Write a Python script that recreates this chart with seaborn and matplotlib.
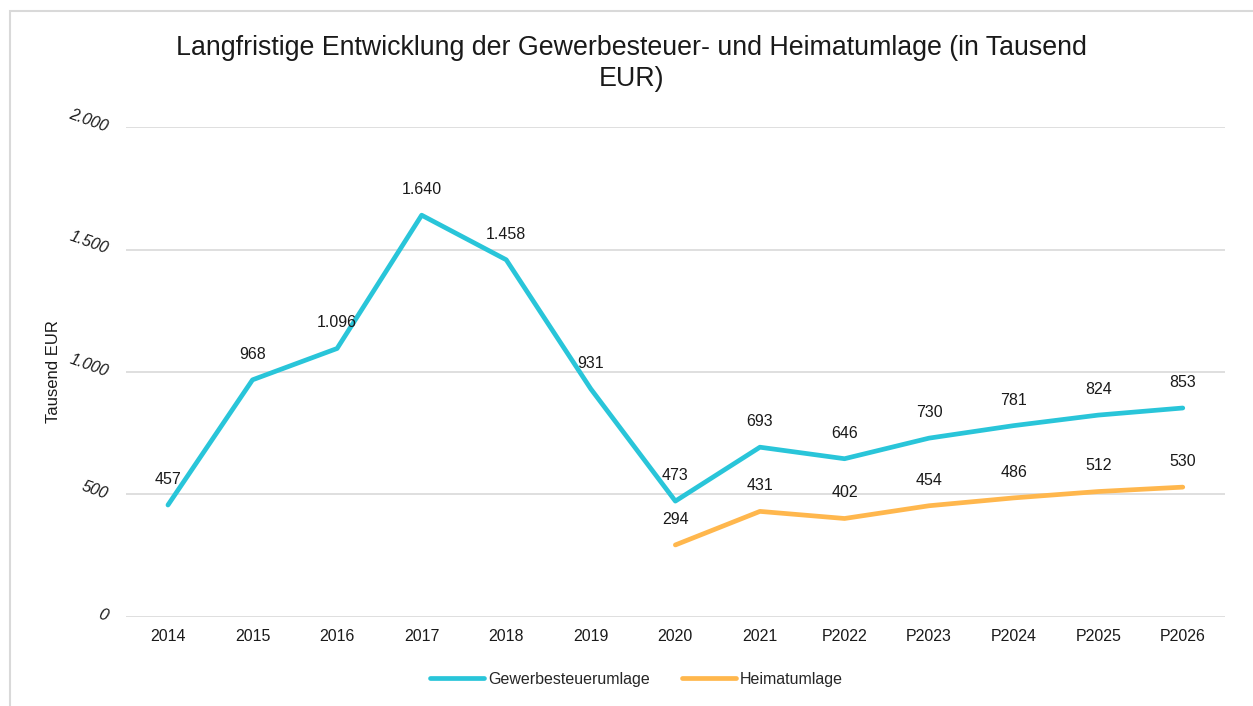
import matplotlib
matplotlib.use("Agg")
import matplotlib.pyplot as plt
import matplotlib.ticker as mticker
from matplotlib.patches import Rectangle
import seaborn as sns
import pandas as pd

# Daten
jahre = ["2014", "2015", "2016", "2017", "2018", "2019", "2020",
         "2021", "P2022", "P2023", "P2024", "P2025", "P2026"]
gewerbe = [457, 968, 1096, 1640, 1458, 931, 473, 693, 646, 730, 781, 824, 853]
heimat_jahre = ["2020", "2021", "P2022", "P2023", "P2024", "P2025", "P2026"]
heimat = [294, 431, 402, 454, 486, 512, 530]

farbe_gewerbe = "#29C5D9"
farbe_heimat = "#FFB74D"
text_farbe = "#1a1a1a"

sns.set_theme(style="white")
plt.rcParams["font.family"] = ["Liberation Sans", "DejaVu Sans"]

fig = plt.figure(figsize=(12.53, 7.06), dpi=100)
ax = fig.add_axes([0.1003, 0.1261, 0.8774, 0.694])

# Rahmen um die Grafik
fig.patches.append(Rectangle((10 / 1253, -0.05), 1.1, 1 - 11 / 706 + 0.05,
                             transform=fig.transFigure, fill=False,
                             edgecolor="#d9d9d9", linewidth=1.5, zorder=0))

df_g = pd.DataFrame({"Jahr": jahre, "Wert": gewerbe})
df_h = pd.DataFrame({"Jahr": heimat_jahre, "Wert": heimat})

sns.lineplot(data=df_g, x="Jahr", y="Wert", ax=ax, color=farbe_gewerbe,
             linewidth=3.4, label="Gewerbesteuerumlage", sort=False,
             solid_capstyle="round")
sns.lineplot(data=df_h, x="Jahr", y="Wert", ax=ax, color=farbe_heimat,
             linewidth=3.4, label="Heimatumlage", sort=False,
             solid_capstyle="round")

def fmt(v):
    return f"{v:,.0f}".replace(",", ".")

# Datenbeschriftungen
for j, v in zip(jahre, gewerbe):
    ax.annotate(fmt(v), (j, v), xytext=(0, 13), textcoords="offset points",
                ha="center", va="bottom", fontsize=11.5, color=text_farbe)
for j, v in zip(heimat_jahre, heimat):
    ax.annotate(fmt(v), (j, v), xytext=(0, 13), textcoords="offset points",
                ha="center", va="bottom", fontsize=11.5, color=text_farbe)

ax.set_xlim(-0.5, len(jahre) - 0.5)
ax.set_ylim(0, 2000)
ax.yaxis.set_major_locator(mticker.MultipleLocator(500))
ax.yaxis.set_major_formatter(mticker.FuncFormatter(lambda v, p: fmt(v)))
ax.grid(axis="y", color="#d9d9d9", linewidth=1.2)
ax.set_axisbelow(True)
for s in ax.spines.values():
    s.set_visible(False)
ax.tick_params(axis="both", length=0, labelsize=11.5, colors=text_farbe)
ax.tick_params(axis="x", pad=9)
ax.tick_params(axis="y", pad=13)
for lab in ax.get_yticklabels():
    lab.set_rotation(-20)
    lab.set_style("italic")
    lab.set_rotation_mode("anchor")
    lab.set_ha("right")
    lab.set_va("center")

ax.set_xlabel("")
ax.set_ylabel("Tausend EUR", fontsize=12, color=text_farbe)
ax.yaxis.set_label_coords(-0.059, 0.5)

fig.text(0.504, 0.91,
         "Langfristige Entwicklung der Gewerbesteuer- und Heimatumlage (in Tausend\nEUR)",
         ha="center", va="center", fontsize=19.3, color=text_farbe, linespacing=1.22)

ax.legend(loc="center", bbox_to_anchor=(0.508, 0.038), bbox_transform=fig.transFigure,
          ncol=2, frameon=False, fontsize=11.5, handlelength=3.4,
          columnspacing=2.0, handletextpad=0.25)

fig.savefig("out.png", dpi=100)
